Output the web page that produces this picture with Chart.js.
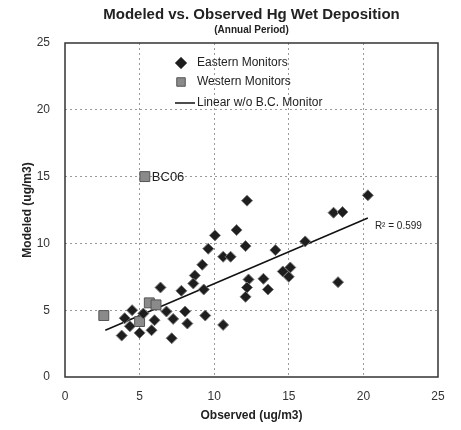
<!DOCTYPE html>
<html>
<head>
<meta charset="utf-8">
<script src="https://cdn.jsdelivr.net/npm/chart.js@4/dist/chart.umd.min.js"></script>
<style>
  html, body { margin: 0; padding: 0; background: #fff; }
  #wrap { width: 461px; height: 430px; }
</style>
</head>
<body>
<div id="wrap"><canvas id="c" width="461" height="430"></canvas></div>
<script>
// observed (x) / modeled (y), ug/m3
const eastObs = [12.2, 11.5, 10.05, 9.6, 12.1, 14.1, 16.1, 10.6, 11.1, 9.2, 8.7, 8.6, 9.3, 12.3, 12.2, 12.1,
  13.3, 13.6, 14.6, 15.1, 15.0, 9.4, 10.6, 18.0, 18.6, 20.3, 18.3, 6.4, 7.8, 7.15, 8.05, 8.2, 7.25, 6.8,
  5.8, 6.0, 3.8, 5.0, 4.35, 4.0, 4.5, 5.25];
const eastMod = [13.2, 11.0, 10.6, 9.6, 9.8, 9.5, 10.15, 9.0, 9.0, 8.4, 7.6, 7.0, 6.55, 7.3, 6.7, 6.0,
  7.35, 6.55, 7.9, 8.2, 7.5, 4.6, 3.9, 12.3, 12.35, 13.6, 7.1, 6.7, 6.45, 2.9, 4.9, 4.0, 4.35, 4.9,
  3.5, 4.25, 3.1, 3.3, 3.8, 4.4, 5.0, 4.75];
const westObs = [2.6, 5.0, 5.65, 6.1, 5.35];
const westMod = [4.6, 4.15, 5.55, 5.4, 15.0];
const westLabels = ['', '', '', '', 'BC06'];
const fitObs = [2.7, 20.3];
const fitMod = [3.5, 11.9];
const rSquared = '0.599';
const axisTicks = [0, 5, 10, 15, 20, 25];

const pts = (xs, ys) => xs.map((x, i) => ({x: x, y: ys[i]}));

const decor = {
  id: 'decor',
  beforeDatasetsDraw(chart) {
    const {ctx, chartArea: a} = chart;
    ctx.save();
    ctx.strokeStyle = '#333';
    ctx.lineWidth = 1.5;
    ctx.strokeRect(a.left, a.top, a.right - a.left, a.bottom - a.top);
    ctx.restore();
  },
  afterDraw(chart) {
    const {ctx, chartArea: a, scales} = chart;
    const cx = (a.left + a.right) / 2;
    ctx.save();
    ctx.fillStyle = '#222';
    ctx.textAlign = 'center';
    ctx.textBaseline = 'middle';
    ctx.font = 'bold 15px "Liberation Sans", Arial, sans-serif';
    ctx.fillText('Modeled vs. Observed Hg Wet Deposition', cx, 15);
    ctx.font = 'bold 10px "Liberation Sans", Arial, sans-serif';
    ctx.fillText('(Annual Period)', cx, 30);

    // labels next to points
    ctx.textAlign = 'left';
    ctx.font = '13px "Liberation Sans", Arial, sans-serif';
    westLabels.forEach((t, i) => {
      if (!t) return;
      ctx.fillText(t, scales.x.getPixelForValue(westObs[i]) + 7, scales.y.getPixelForValue(westMod[i]) + 1);
    });
    ctx.font = '10px "Liberation Sans", Arial, sans-serif';
    ctx.fillText('R\u00B2 = ' + rSquared, scales.x.getPixelForValue(fitObs[1]) + 7,
      scales.y.getPixelForValue(fitMod[1]) + 8);

    // legend
    const lx = 181, ly = [63, 82, 103];
    const names = ['Eastern Monitors', 'Western Monitors', 'Linear w/o B.C. Monitor'];
    ctx.font = '12px "Liberation Sans", Arial, sans-serif';
    names.forEach((n, i) => ctx.fillText(n, lx + 16, ly[i]));
    const ds = chart.data.datasets;
    ctx.fillStyle = ds[0].backgroundColor; ctx.strokeStyle = ds[0].borderColor;
    Chart.helpers.drawPoint(ctx, {pointStyle: 'rectRot', radius: 6, borderWidth: 1}, lx, ly[0]);
    ctx.fillStyle = ds[1].backgroundColor; ctx.strokeStyle = ds[1].borderColor;
    Chart.helpers.drawPoint(ctx, {pointStyle: 'rect', radius: 6, borderWidth: 1}, lx, ly[1]);
    ctx.strokeStyle = ds[2].borderColor; ctx.lineWidth = 1.5;
    ctx.beginPath(); ctx.moveTo(lx - 6, ly[2]); ctx.lineTo(lx + 14, ly[2]); ctx.stroke();
    ctx.restore();
  }
};

const tickFont = {family: '"Liberation Sans", Arial, sans-serif', size: 12};
const gridOpts = {
  color: ctx => (ctx.tick && (ctx.tick.value === 0 || ctx.tick.value === 25)) ? 'rgba(0,0,0,0)' : '#9a9a9a',
  lineWidth: 1,
  drawTicks: false
};

new Chart(document.getElementById('c'), {
  type: 'scatter',
  data: {
    datasets: [{
      label: 'Eastern Monitors',
      data: pts(eastObs, eastMod),
      pointStyle: 'rectRot',
      pointRadius: 5.5,
      backgroundColor: '#1e1e1e',
      borderColor: '#777',
      borderWidth: 1
    }, {
      label: 'Western Monitors',
      data: pts(westObs, westMod),
      pointStyle: 'rect',
      pointRadius: 7,
      backgroundColor: '#8a8a8a',
      borderColor: '#555',
      borderWidth: 1
    }, {
      label: 'Linear w/o B.C. Monitor',
      type: 'line',
      data: pts(fitObs, fitMod),
      borderColor: '#111',
      borderWidth: 1.5,
      pointRadius: 0,
      fill: false
    }]
  },
  options: {
    responsive: false,
    animation: false,
    layout: {padding: {top: 43, right: 23, left: 0, bottom: 0}},
    plugins: {legend: {display: false}, tooltip: {enabled: false}, title: {display: false}},
    scales: {
      x: {
        type: 'linear', min: 0, max: 25,
        afterBuildTicks: s => { s.ticks = axisTicks.map(v => ({value: v})); },
        afterFit: s => { s.height = 53; },
        grid: gridOpts,
        border: {display: false, dash: [2, 3]},
        ticks: {font: tickFont, color: '#333', padding: 12},
        title: {display: true, text: 'Observed (ug/m3)', color: '#222',
          font: {family: '"Liberation Sans", Arial, sans-serif', size: 12, weight: 'bold'},
          padding: {top: 0, bottom: 7}}
      },
      y: {
        type: 'linear', min: 0, max: 25,
        afterBuildTicks: s => { s.ticks = axisTicks.map(v => ({value: v})); },
        afterFit: s => { s.width = 65; },
        grid: gridOpts,
        border: {display: false, dash: [2, 3]},
        ticks: {font: tickFont, color: '#333', padding: 15},
        title: {display: true, text: 'Modeled (ug/m3)', color: '#222',
          font: {family: '"Liberation Sans", Arial, sans-serif', size: 12, weight: 'bold'},
          padding: {top: 20, bottom: 0}}
      }
    }
  },
  plugins: [decor]
});
</script>
</body>
</html>
